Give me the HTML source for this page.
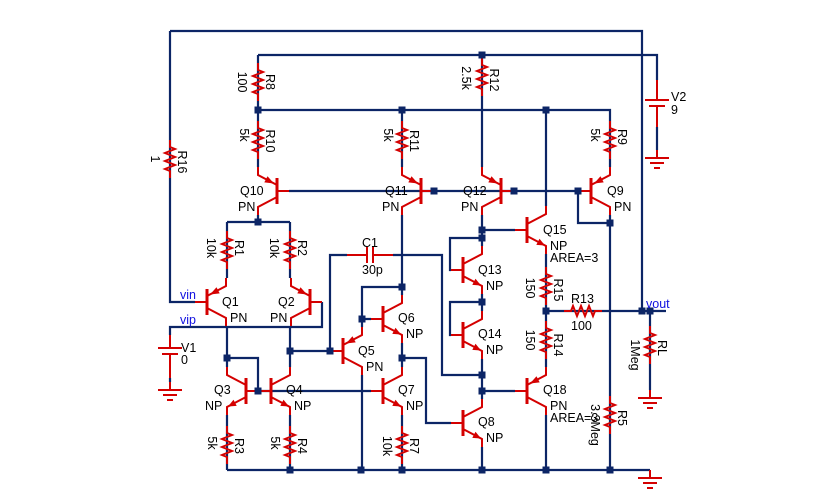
<!DOCTYPE html>
<html><head><meta charset="utf-8"><style>
html,body{margin:0;padding:0;background:#fff;}
svg{display:block;}
text{font-family:"Liberation Sans",Arial,sans-serif;font-size:12.5px;fill:#000;}
.b{fill:#1010e0;}
</style></head><body>
<svg width="833" height="500" viewBox="0 0 833 500" xmlns="http://www.w3.org/2000/svg">
<defs>
<g id="res"><path d="M0,-19 V-12 L5,-10 L-5,-6 L5,-2 L-5,2 L5,6 L-5,10 L0,12 V19" fill="none" stroke="#d40000" stroke-width="2"/></g>
<g id="npn" stroke="#d40000" stroke-width="2" fill="none">
<path d="M-12,0 H0 M0,-6 L19,-16 V-24 M0,6 L19,16 V24"/>
<path d="M0,-13 V13" stroke-width="3"/>
<polygon points="18,15.5 9.3,14.9 12.5,8.7" fill="#d40000" stroke="none"/>
</g>
<g id="pnp" stroke="#d40000" stroke-width="2" fill="none">
<path d="M-12,0 H0 M0,-6 L19,-16 V-24 M0,6 L19,16 V24"/>
<path d="M0,-13 V13" stroke-width="3"/>
<polygon points="3,-7.5 12.7,-8.6 9.5,-14.8" fill="#d40000" stroke="none"/>
</g>
<g id="gnd" stroke="#d40000" stroke-width="2"><path d="M0,0 V8 M-12,8 H12 M-7,13 H7 M-3,18 H3"/></g>
<rect id="j" x="-3.5" y="-3.5" width="7" height="7" fill="#0c2566"/>
</defs>

<g fill="none" stroke="#0c2566" stroke-width="2.2">
<path d="M170,31 H642 V311"/>
<path d="M170,31 V302 H195"/>
<path d="M258,55 H657 V80"/>
<path d="M258,55 V167"/>
<path d="M258,110 H610 V167"/>
<path d="M402,110 V167"/>
<path d="M482,55 V167"/>
<path d="M546,110 V206"/>
<path d="M289,191 H579"/>
<path d="M578,191 V223 H610"/>
<path d="M610,215 V470"/>
<path d="M258,215 V222 M227,222 H290 M227,222 V278 M290,222 V278"/>
<path d="M227,326 V367 M227,358 H258 V391"/>
<path d="M290,326 V367 M290,351 H331"/>
<path d="M322,302 V327 H170 V335"/>
<path d="M258,391 H371"/>
<path d="M227,415 V470 M290,415 V470 M402,415 V470"/>
<path d="M227,470 H650"/>
<path d="M362,327 V287 H402 M362,319 H371"/>
<path d="M362,375 V470"/>
<path d="M402,215 V295"/>
<path d="M402,343 V367 M402,358 H426 V423 H451"/>
<path d="M330,351 V255 H347 M393,255 H442 V375 H482"/>
<path d="M482,215 V246 M482,230 H515 M482,238 H450 V270 H451"/>
<path d="M482,294 V311 M482,302 H450 V335 H451"/>
<path d="M482,359 V399 M482,391 H515"/>
<path d="M482,447 V470"/>
<path d="M546,254 V367"/>
<path d="M546,311 H666"/>
<path d="M546,415 V470"/>
<path d="M650,311 V390"/>
<path d="M657,127 V150"/>
<path d="M170,378 V382"/>
</g>

<!-- resistors -->
<use href="#res" x="170" y="159"/>
<use href="#res" x="258" y="82"/>
<use href="#res" x="258" y="140"/>
<use href="#res" x="402" y="140"/>
<use href="#res" x="482" y="77"/>
<use href="#res" x="610" y="140"/>
<use href="#res" x="227" y="250"/>
<use href="#res" x="290" y="250"/>
<use href="#res" x="227" y="445"/>
<use href="#res" x="290" y="445"/>
<use href="#res" x="402" y="445"/>
<use href="#res" x="546" y="286"/>
<use href="#res" x="546" y="340"/>
<use href="#res" x="610" y="415"/>
<use href="#res" x="650" y="345"/>
<g transform="translate(583,311) rotate(-90)"><use href="#res"/></g>

<!-- transistors -->
<g transform="translate(277,191) scale(-1,1)"><use href="#pnp"/></g>
<g transform="translate(421,191) scale(-1,1)"><use href="#pnp"/></g>
<g transform="translate(501,191) scale(-1,1)"><use href="#pnp"/></g>
<use href="#pnp" x="591" y="191"/>
<use href="#npn" x="527" y="230"/>
<use href="#npn" x="463" y="270"/>
<use href="#npn" x="463" y="335"/>
<use href="#pnp" x="527" y="391"/>
<use href="#npn" x="463" y="423"/>
<use href="#pnp" x="207" y="302"/>
<g transform="translate(310,302) scale(-1,1)"><use href="#pnp"/></g>
<g transform="translate(246,391) scale(-1,1)"><use href="#npn"/></g>
<use href="#npn" x="271" y="391"/>
<use href="#pnp" x="343" y="351"/>
<use href="#npn" x="383" y="319"/>
<use href="#npn" x="383" y="391"/>

<!-- sources, cap -->
<g stroke="#d40000" stroke-width="2" fill="none">
<path d="M657,80 V100 M645,100 H669 M649,106 H665 M657,106 V127"/>
<path d="M170,335 V348 M158,348 H182 M162,354 H178 M170,354 V378"/>
<path d="M347,255 H367 M367,247 V263 M373,247 V263 M373,255 H393"/>
</g>
<use href="#gnd" x="657" y="150"/>
<use href="#gnd" x="170" y="382"/>
<use href="#gnd" x="650" y="390"/>
<use href="#gnd" x="650" y="470"/>

<!-- junctions -->
<use href="#j" x="482" y="55"/>
<use href="#j" x="258" y="110"/><use href="#j" x="402" y="110"/><use href="#j" x="546" y="110"/>
<use href="#j" x="434" y="191"/><use href="#j" x="514" y="191"/><use href="#j" x="578" y="191"/>
<use href="#j" x="610" y="223"/><use href="#j" x="258" y="222"/>
<use href="#j" x="482" y="230"/><use href="#j" x="482" y="238"/>
<use href="#j" x="402" y="287"/><use href="#j" x="482" y="302"/>
<use href="#j" x="546" y="311"/><use href="#j" x="642" y="311"/><use href="#j" x="650" y="311"/>
<use href="#j" x="362" y="319"/><use href="#j" x="330" y="351"/><use href="#j" x="290" y="351"/>
<use href="#j" x="227" y="358"/><use href="#j" x="402" y="358"/>
<use href="#j" x="482" y="375"/><use href="#j" x="482" y="391"/><use href="#j" x="258" y="391"/>
<use href="#j" x="290" y="470"/><use href="#j" x="361" y="470"/><use href="#j" x="402" y="470"/>
<use href="#j" x="482" y="470"/><use href="#j" x="546" y="470"/><use href="#j" x="610" y="470"/>

<!-- transistor labels -->
<text x="240" y="195">Q10</text><text x="238" y="211">PN</text>
<text x="385" y="195">Q11</text><text x="382" y="211">PN</text>
<text x="463" y="195">Q12</text><text x="461" y="211">PN</text>
<text x="607" y="195">Q9</text><text x="614" y="211">PN</text>
<text x="543" y="234">Q15</text><text x="550" y="250">NP</text><text x="550" y="262">AREA=3</text>
<text x="478" y="274">Q13</text><text x="486" y="290">NP</text>
<text x="478" y="338">Q14</text><text x="486" y="354">NP</text>
<text x="543" y="394">Q18</text><text x="550" y="410">PN</text><text x="550" y="422">AREA=3</text>
<text x="478" y="426">Q8</text><text x="486" y="442">NP</text>
<text x="222" y="306">Q1</text><text x="230" y="322">PN</text>
<text x="278" y="306">Q2</text><text x="270" y="322">PN</text>
<text x="214" y="394">Q3</text><text x="205" y="410">NP</text>
<text x="286" y="394">Q4</text><text x="294" y="410">NP</text>
<text x="358" y="355">Q5</text><text x="366" y="371">PN</text>
<text x="398" y="322">Q6</text><text x="406" y="338">NP</text>
<text x="398" y="394">Q7</text><text x="406" y="410">NP</text>

<text x="362" y="247">C1</text><text x="362" y="274">30p</text>
<text x="571" y="303">R13</text><text x="571" y="330">100</text>
<text x="671" y="101">V2</text><text x="671" y="114">9</text>
<text x="181" y="352">V1</text><text x="181" y="364">0</text>
<text class="b" x="180" y="299">vin</text>
<text class="b" x="180" y="324">vip</text>
<text class="b" x="646" y="308">vout</text>

<!-- rotated resistor labels -->
<g text-anchor="middle">
<text transform="translate(178,162) rotate(90)">R16</text><text transform="translate(151,159) rotate(90)">1</text>
<text transform="translate(266,82) rotate(90)">R8</text><text transform="translate(238,82) rotate(90)">100</text>
<text transform="translate(266,141) rotate(90)">R10</text><text transform="translate(240,135) rotate(90)">5k</text>
<text transform="translate(410,141) rotate(90)">R11</text><text transform="translate(384,135) rotate(90)">5k</text>
<text transform="translate(490,80) rotate(90)">R12</text><text transform="translate(462,78) rotate(90)">2.5k</text>
<text transform="translate(618,137) rotate(90)">R9</text><text transform="translate(591,135) rotate(90)">5k</text>
<text transform="translate(235,248) rotate(90)">R1</text><text transform="translate(207,248) rotate(90)">10k</text>
<text transform="translate(298,248) rotate(90)">R2</text><text transform="translate(270,248) rotate(90)">10k</text>
<text transform="translate(235,446) rotate(90)">R3</text><text transform="translate(208,443) rotate(90)">5k</text>
<text transform="translate(298,446) rotate(90)">R4</text><text transform="translate(271,443) rotate(90)">5k</text>
<text transform="translate(410,446) rotate(90)">R7</text><text transform="translate(383,446) rotate(90)">10k</text>
<text transform="translate(554,290) rotate(90)">R15</text><text transform="translate(526,288) rotate(90)">150</text>
<text transform="translate(554,345) rotate(90)">R14</text><text transform="translate(526,340) rotate(90)">150</text>
<text transform="translate(618,418) rotate(90)">R5</text><text transform="translate(591,425) rotate(90)">3.3Meg</text>
<text transform="translate(658,348) rotate(90)">RL</text><text transform="translate(631,355) rotate(90)">1Meg</text>
</g>
</svg>
</body></html>
